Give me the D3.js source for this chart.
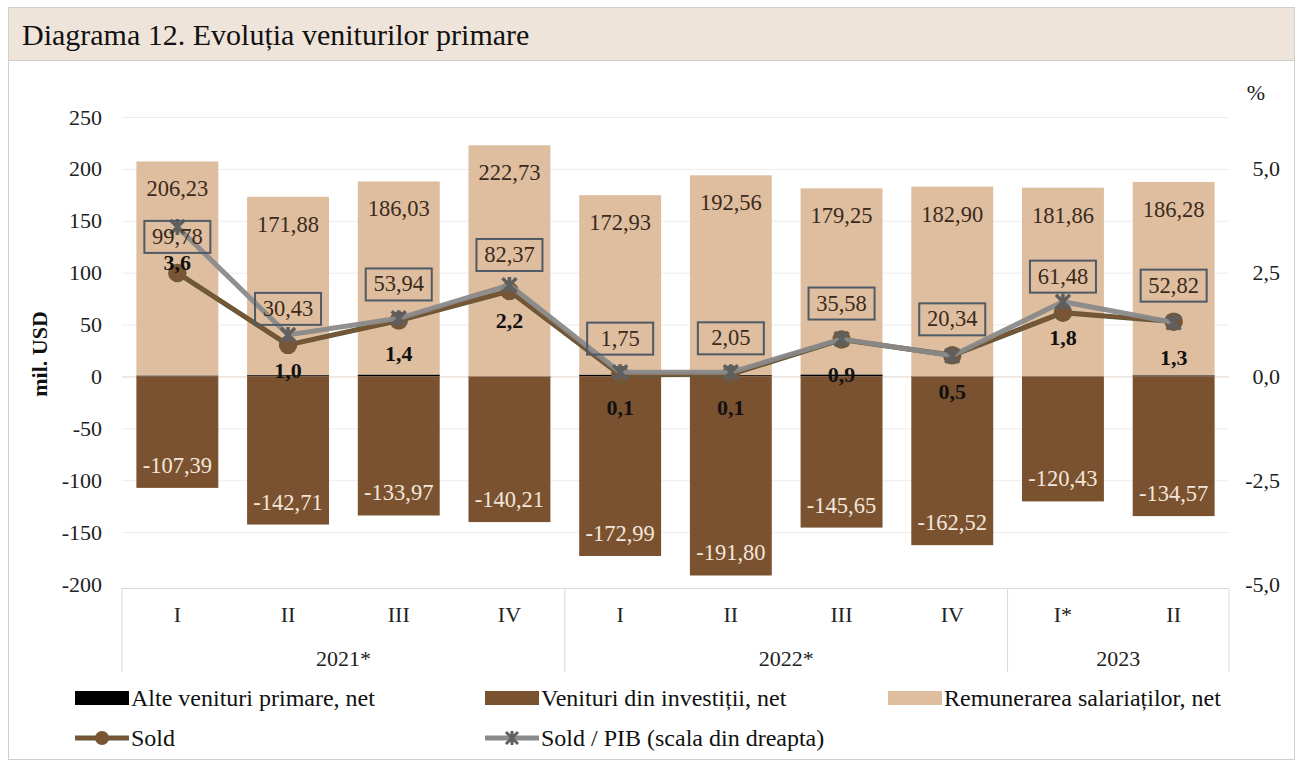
<!DOCTYPE html>
<html>
<head>
<meta charset="utf-8">
<script src="https://cdn.jsdelivr.net/npm/d3@7/dist/d3.min.js"></script>
<style>
  html, body { margin: 0; padding: 0; background: #fff; }
  svg { display: block; font-family: "Liberation Serif", "DejaVu Serif", serif; }
</style>
</head>
<body>
<svg id="chart" width="1302" height="764"></svg>
<script>
(function () {
    'use strict';

    // ── date ─────────────────────────────────────────────────────────────
    const quarters   = ['I', 'II', 'III', 'IV', 'I', 'II', 'III', 'IV', 'I*', 'II'];
    const years      = [{ label: '2021*', from: 0, to: 3 }, { label: '2022*', from: 4, to: 7 }, { label: '2023', from: 8, to: 9 }];
    const remunerare = [206.23, 171.88, 186.03, 222.73, 172.93, 192.56, 179.25, 182.90, 181.86, 186.28];
    const investitii = [-107.39, -142.71, -133.97, -140.21, -172.99, -191.80, -145.65, -162.52, -120.43, -134.57];
    const alte       = [0.94, 1.26, 1.88, -0.15, 1.81, 1.29, 1.98, -0.04, 0.05, 1.11];
    const sold       = [99.78, 30.43, 53.94, 82.37, 1.75, 2.05, 35.58, 20.34, 61.48, 52.82];
    const soldPib    = [3.6, 1.0, 1.4, 2.2, 0.1, 0.1, 0.9, 0.5, 1.8, 1.3];
    const leftTicks  = [-200, -150, -100, -50, 0, 50, 100, 150, 200, 250];
    const rightTicks = [-5, -2.5, 0, 2.5, 5];

    const C_REM  = '#dfbe9f';
    const C_INV  = '#7a5230';
    const C_ALTE = '#000000';
    const C_SOLD = '#7a5534';
    const C_PIB  = '#8a8a8a';
    const FONT   = '"Liberation Serif", "DejaVu Serif", serif';

    const svg = d3.select('#chart');
    const fmt = (v, d) => v.toFixed(d).replace('.', ',');

    // ── cadru și titlu ───────────────────────────────────────────────────
    svg.append('rect').attr('x', 8.5).attr('y', 7.5).attr('width', 1286).attr('height', 752)
        .attr('fill', '#fff').attr('stroke', '#cfcfcf');
    svg.append('rect').attr('x', 8.5).attr('y', 7.5).attr('width', 1286).attr('height', 53)
        .attr('fill', '#efe4da').attr('stroke', '#cfcfcf');
    svg.append('text').attr('x', 22).attr('y', 45)
        .style('font-size', '30px').attr('fill', '#111')
        .text('Diagrama 12. Evoluția veniturilor primare');

    // ── scale ────────────────────────────────────────────────────────────
    const x = d3.scaleBand().domain(d3.range(quarters.length))
        .range([122, 1229]).paddingInner(0.26).paddingOuter(0.13);
    const y  = d3.scaleLinear().domain([-200, 250]).range([584, 117]);
    const y2 = d3.scaleLinear().domain([-5, 6.25]).range([584, 117]);
    const cx = i => x(i) + x.bandwidth() / 2;

    // ── grilă ────────────────────────────────────────────────────────────
    svg.append('g').selectAll('line').data(leftTicks.filter(t => t > -200))
        .enter().append('line')
        .attr('x1', 122).attr('x2', 1229)
        .attr('y1', d => y(d) + 0.5).attr('y2', d => y(d) + 0.5)
        .attr('stroke', d => d === 0 ? '#e2d2c8' : '#ececec').attr('stroke-width', 1);

    // ── axe ──────────────────────────────────────────────────────────────
    const gl = svg.append('g').attr('transform', 'translate(104,0)')
        .call(d3.axisLeft(y).tickValues(leftTicks).tickSize(0).tickPadding(2).tickFormat(d => d));
    const gr = svg.append('g').attr('transform', 'translate(1280,0)')
        .call(d3.axisLeft(y2).tickValues(rightTicks).tickSize(0).tickPadding(0).tickFormat(d => fmt(d, 1)));
    [gl, gr].forEach(g => {
        g.attr('font-family', FONT).attr('font-size', 22);
        g.select('.domain').remove();
        g.selectAll('text').attr('fill', '#222');
    });
    svg.append('text').attr('x', 1256).attr('y', 100).attr('text-anchor', 'middle')
        .style('font-size', '22px').attr('fill', '#222').text('%');
    svg.append('text').attr('transform', 'translate(47,354) rotate(-90)').attr('text-anchor', 'middle')
        .style('font-size', '22px').style('font-weight', 'bold').attr('fill', '#111').text('mil. USD');

    // ── bare stivuite ────────────────────────────────────────────────────
    const rows = quarters.map((q, i) => ({ i, alte: alte[i], inv: investitii[i], rem: remunerare[i] }));
    const series = d3.stack().keys(['alte', 'inv', 'rem']).offset(d3.stackOffsetDiverging)(rows);
    const colors = { alte: C_ALTE, inv: C_INV, rem: C_REM };

    svg.append('g').selectAll('g').data(series).enter().append('g')
        .attr('fill', d => colors[d.key])
        .selectAll('rect').data(d => d).enter().append('rect')
        .attr('x', d => x(d.data.i)).attr('width', x.bandwidth())
        .attr('y', d => y(Math.max(d[0], d[1])))
        .attr('height', d => Math.max(Math.abs(y(d[0]) - y(d[1])), 0.8));

    // etichete bare
    const remS = series.find(s => s.key === 'rem');
    const invS = series.find(s => s.key === 'inv');
    svg.append('g').selectAll('text').data(remS).enter().append('text')
        .attr('x', d => cx(d.data.i)).attr('y', d => y(d[1]) + 35)
        .attr('text-anchor', 'middle').style('font-size', '22.5px').attr('fill', '#3a2a1c')
        .text(d => fmt(d.data.rem, 2));
    svg.append('g').selectAll('text').data(invS).enter().append('text')
        .attr('x', d => cx(d.data.i)).attr('y', d => y(d[0]) - 15)
        .attr('text-anchor', 'middle').style('font-size', '22.5px').attr('fill', '#f3e6da')
        .text(d => fmt(d.data.inv, 2));

    // ── linii ────────────────────────────────────────────────────────────
    const lineSold = d3.line().x((d, i) => cx(i)).y(d => y(d));
    const linePib  = d3.line().x((d, i) => cx(i)).y(d => y2(d));

    svg.append('path').datum(sold).attr('d', lineSold)
        .attr('fill', 'none').attr('stroke', '#5e5a3a').attr('stroke-width', 5);
    svg.append('path').datum(sold).attr('d', lineSold)
        .attr('fill', 'none').attr('stroke', C_SOLD).attr('stroke-width', 3);
    svg.append('g').selectAll('circle').data(sold).enter().append('circle')
        .attr('cx', (d, i) => cx(i)).attr('cy', d => y(d)).attr('r', 8.5)
        .attr('fill', C_SOLD).attr('stroke', '#6b5a3c').attr('stroke-width', 1.5);

    svg.append('path').datum(soldPib).attr('d', linePib)
        .attr('fill', 'none').attr('stroke', C_PIB).attr('stroke-width', 5).attr('stroke-opacity', 0.95);
    const xm = svg.append('g').selectAll('g').data(soldPib).enter().append('g')
        .attr('transform', (d, i) => `translate(${cx(i)},${y2(d)})`);
    xm.append('path').attr('d', 'M-7,-7L7,7M-7,7L7,-7M0,-8L0,8')
        .attr('stroke', '#5f5f5f').attr('stroke-width', 3.5).attr('fill', 'none');

    // etichete sold (în casete)
    const lb = svg.append('g').selectAll('g').data(sold).enter().append('g')
        .attr('transform', (d, i) => `translate(${cx(i)},${y(d) - 36})`);
    lb.append('rect').attr('x', -33).attr('y', -16).attr('width', 66).attr('height', 32)
        .attr('fill', 'none').attr('stroke', '#4e5a66').attr('stroke-width', 2);
    lb.append('text').attr('y', 7).attr('text-anchor', 'middle')
        .style('font-size', '22.5px').attr('fill', '#3a2a1c').text(d => fmt(d, 2));

    // etichete sold / PIB
    svg.append('g').selectAll('text').data(soldPib).enter().append('text')
        .attr('x', (d, i) => cx(i)).attr('y', d => y2(d) + 43)
        .attr('text-anchor', 'middle').style('font-size', '22px').style('font-weight', 'bold')
        .attr('fill', '#111').text(d => fmt(d, 1));

    // ── axa orizontală ───────────────────────────────────────────────────
    svg.append('line').attr('x1', 122).attr('x2', 1229).attr('y1', 588.5).attr('y2', 588.5)
        .attr('stroke', '#d9d9d9');
    const seps = [0].concat(years.map(yr => yr.to + 1));
    const sepX = i => i < quarters.length ? x(i) - x.step() * x.paddingInner() / 2 : 1229;
    svg.append('g').selectAll('line').data(seps).enter().append('line')
        .attr('x1', sepX).attr('x2', sepX)
        .attr('y1', 588).attr('y2', 672).attr('stroke', '#d9d9d9');
    svg.append('g').selectAll('text').data(quarters).enter().append('text')
        .attr('x', (d, i) => cx(i)).attr('y', 622).attr('text-anchor', 'middle')
        .style('font-size', '22px').attr('fill', '#222').text(d => d);
    svg.append('g').selectAll('text').data(years).enter().append('text')
        .attr('x', d => (cx(d.from) + cx(d.to)) / 2).attr('y', 666).attr('text-anchor', 'middle')
        .style('font-size', '22px').attr('fill', '#222').text(d => d.label);

    // ── legendă ──────────────────────────────────────────────────────────
    const legBars = [
        { label: 'Alte venituri primare, net', color: C_ALTE, x: 75 },
        { label: 'Venituri din investiții, net', color: C_INV, x: 485 },
        { label: 'Remunerarea salariaților, net', color: C_REM, x: 888 }
    ];
    const LEG_FS = '24px';
    const lg = svg.append('g');
    legBars.forEach(l => {
        lg.append('rect').attr('x', l.x).attr('y', 691).attr('width', 54).attr('height', 14).attr('fill', l.color);
        lg.append('text').attr('x', l.x + 56).attr('y', 706).style('font-size', LEG_FS).attr('fill', '#111').text(l.label);
    });
    // Sold
    lg.append('line').attr('x1', 75).attr('x2', 129).attr('y1', 738).attr('y2', 738)
        .attr('stroke', '#5e5a3a').attr('stroke-width', 5);
    lg.append('line').attr('x1', 75).attr('x2', 129).attr('y1', 738).attr('y2', 738)
        .attr('stroke', C_SOLD).attr('stroke-width', 3);
    lg.append('circle').attr('cx', 102).attr('cy', 738).attr('r', 7).attr('fill', C_SOLD);
    lg.append('text').attr('x', 131).attr('y', 746).style('font-size', LEG_FS).attr('fill', '#111').text('Sold');
    // Sold / PIB
    lg.append('line').attr('x1', 485).attr('x2', 539).attr('y1', 738).attr('y2', 738)
        .attr('stroke', C_PIB).attr('stroke-width', 5);
    lg.append('path').attr('transform', 'translate(512,738)').attr('d', 'M-6,-6L6,6M-6,6L6,-6M0,-7L0,7')
        .attr('stroke', '#5f5f5f').attr('stroke-width', 3);
    lg.append('text').attr('x', 541).attr('y', 746).style('font-size', LEG_FS).attr('fill', '#111')
        .text('Sold / PIB (scala din dreapta)');
})();
</script>
</body>
</html>
